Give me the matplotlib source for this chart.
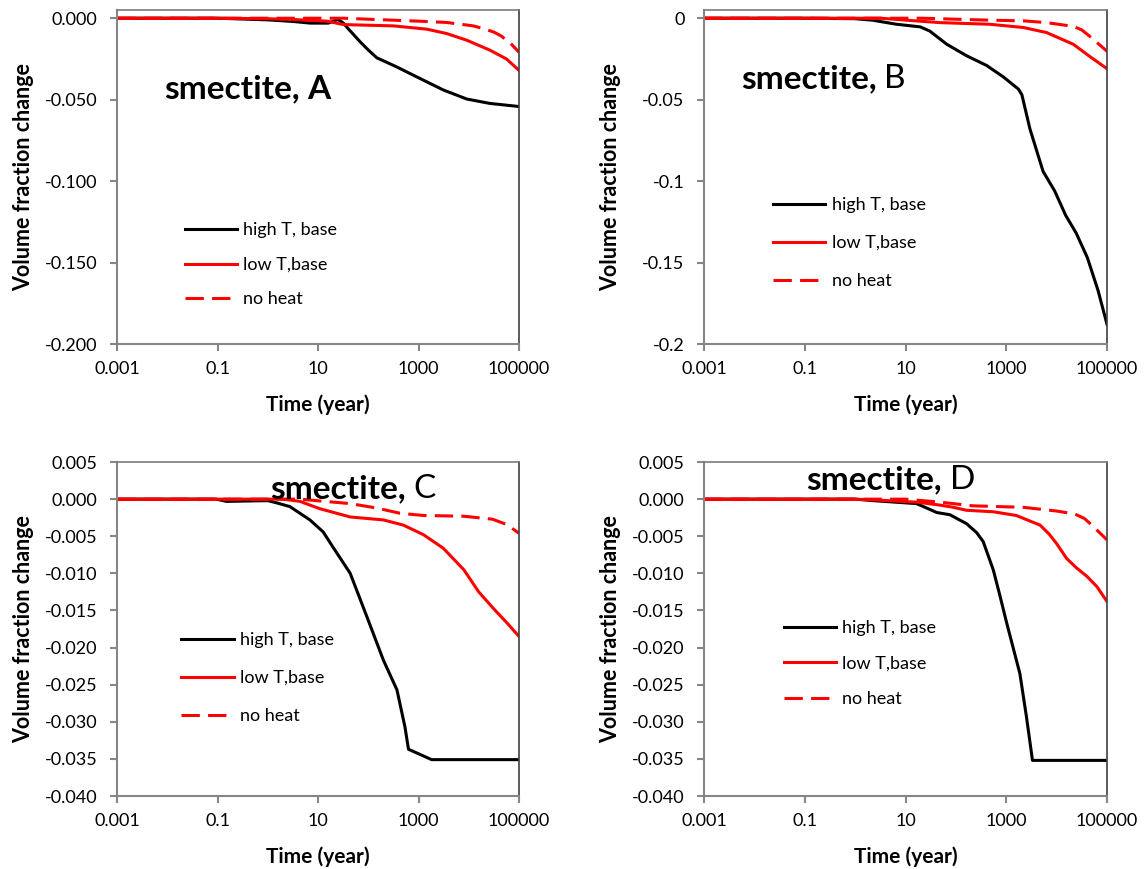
import matplotlib
matplotlib.use('Agg')
import matplotlib.pyplot as plt

plt.rcParams['font.family'] = ['Lato', 'DejaVu Sans']

# ---- data (time in years, volume fraction change) ----
labels = ['high T, base', 'low T,base', 'no heat']
xticks = [0.001, 0.1, 10, 1000, 100000]
xtick_labels = ['0.001', '0.1', '10', '1000', '100000']

# panel A
t_hA = [0.001, 0.1, 1, 3.2, 7, 16, 25, 32, 40, 69, 100, 148, 363, 1070, 3090, 9120, 26300, 100000]
v_hA = [0, 0, -0.001, -0.002, -0.003, -0.003, -0.0008, -0.003, -0.0065, -0.0145, -0.0195,
        -0.0243, -0.0298, -0.037, -0.044, -0.0496, -0.0523, -0.0542]
t_lA = [0.001, 0.1, 1, 3.2, 15, 32, 316, 1450, 3630, 9120, 26300, 56200, 100000]
v_lA = [0, 0, -0.0003, -0.0008, -0.0018, -0.0039, -0.0047, -0.0067, -0.0094, -0.0135,
        -0.0196, -0.025, -0.032]
t_nA = [0.001, 32, 316, 1000, 3630, 12300, 20000, 31600, 44700, 70800, 100000]
v_nA = [0, 0, -0.0012, -0.0018, -0.0026, -0.0047, -0.0065, -0.0085, -0.011, -0.016, -0.0209]

# panel B
t_hB = [0.001, 0.1, 1, 2.2, 6.6, 19.5, 30, 66, 162, 407, 871, 1740, 2040, 2950, 5370,
        9120, 15100, 24500, 40700, 66100, 100000]
v_hB = [0, 0, -0.0003, -0.0012, -0.0037, -0.0053, -0.0078, -0.016, -0.023, -0.029, -0.036,
        -0.0435, -0.047, -0.068, -0.094, -0.106, -0.121, -0.132, -0.147, -0.167, -0.188]
t_lB = [0.001, 3.2, 10.5, 48, 468, 2190, 6310, 21400, 47900, 100000]
v_lB = [0, 0, -0.0012, -0.0027, -0.0037, -0.0057, -0.0088, -0.016, -0.024, -0.031]
t_nB = [0.001, 22, 100, 468, 2190, 6310, 21400, 31600, 47900, 69200, 100000]
v_nB = [0, 0, -0.0006, -0.0012, -0.0016, -0.0027, -0.005, -0.0072, -0.0117, -0.016, -0.0203]

# panel C
t_hC = [0.001, 0.095, 0.15, 1, 1.5, 2.75, 6.9, 12.6, 20, 43.7, 93.3, 200, 372, 537, 631,
        1820, 100000]
v_hC = [0, 0, -0.0003, -0.0002, -0.0005, -0.001, -0.0028, -0.0044, -0.0065, -0.010, -0.0158,
        -0.0217, -0.0257, -0.0307, -0.0337, -0.0351, -0.0351]
t_lC = [0.001, 2, 4.4, 6.9, 11, 23.4, 43.7, 200, 501, 1260, 3090, 7940, 15800, 31600,
        56200, 100000]
v_lC = [0, 0, -0.0003, -0.0008, -0.0013, -0.0019, -0.0024, -0.0028, -0.0035, -0.0048,
        -0.0066, -0.0095, -0.0125, -0.0148, -0.0166, -0.0185]
t_nC = [0.001, 4.4, 9.3, 43.7, 148, 427, 1260, 7940, 29500, 56200, 100000]
v_nC = [0, 0, -0.0002, -0.0006, -0.0012, -0.0019, -0.0022, -0.0023, -0.0027, -0.0034, -0.0046]

# panel D
t_hD = [0.001, 1, 2.3, 10, 16.6, 26.3, 41.7, 75.9, 162, 257, 347, 550, 741, 1020, 1860,
        2510, 3310, 100000]
v_hD = [0, 0, -0.0002, -0.0005, -0.0006, -0.0012, -0.0018, -0.0021, -0.0033, -0.0045,
        -0.0057, -0.0095, -0.0129, -0.0167, -0.0235, -0.0293, -0.0352, -0.0352]
t_lD = [0.001, 1, 2.3, 16.6, 47.9, 89.1, 162, 550, 1580, 4680, 7080, 10000, 15800, 25100,
        39800, 63100, 100000]
v_lD = [0, 0, -0.0001, -0.0004, -0.0008, -0.0011, -0.0015, -0.0017, -0.0022, -0.0035,
        -0.0047, -0.006, -0.008, -0.0093, -0.0104, -0.0118, -0.0138]
t_nD = [0.001, 10, 47.9, 219, 2190, 10000, 22900, 35500, 47900, 70800, 100000]
v_nD = [0, 0, -0.0004, -0.0009, -0.0011, -0.0016, -0.002, -0.0026, -0.0034, -0.0045, -0.0055]

yticks_AB = [-0.2, -0.15, -0.1, -0.05, 0]
ylab_A = ['-0.200', '-0.150', '-0.100', '-0.050', '0.000']
ylab_B = ['-0.2', '-0.15', '-0.1', '-0.05', '0']
yticks_CD = [-0.04, -0.035, -0.03, -0.025, -0.02, -0.015, -0.01, -0.005, 0, 0.005]
ylab_CD = ['-0.040', '-0.035', '-0.030', '-0.025', '-0.020', '-0.015', '-0.010',
           '-0.005', '0.000', '0.005']

fig = plt.figure(figsize=(11.44, 8.69), dpi=100)

grey = '#868686'


def panel(rect, series, ylim, yt, ytl, letter, letter_bold, title_xy, leg_xy, leg_space):
    ax = fig.add_axes(rect)
    styles = [dict(color='black', ls='-'), dict(color='#ff0000', ls='-'),
              dict(color='#ff0000', ls=(0, (6, 2.7)))]
    for (t, v), st, lab in zip(series, styles, labels):
        ax.plot(t, v, lw=2.2, label=lab, solid_joinstyle='round', **st)
    ax.set_xscale('log')
    ax.set_xlim(0.001, 100000)
    ax.set_ylim(*ylim)
    ax.set_xticks(xticks, xtick_labels)
    ax.minorticks_off()
    ax.set_yticks(yt, ytl)
    ax.tick_params(axis='both', direction='out', length=5, width=1.5, color=grey,
                   labelsize=13, labelcolor='black')
    ax.tick_params(axis='x', pad=7)
    ax.tick_params(axis='y', pad=9)
    for s in ['left', 'bottom']:
        ax.spines[s].set_color(grey)
        ax.spines[s].set_linewidth(1.5)
    ax.spines['top'].set_color('#7a7a7a')
    ax.spines['top'].set_linewidth(1.2)
    ax.spines['right'].set_color('#404040')
    ax.spines['right'].set_linewidth(1.2)
    ax.set_xlabel('Time (year)', fontsize=15, fontweight='bold')
    ax.xaxis.set_label_coords(0.5, -0.15)
    ax.set_ylabel('Volume fraction change', fontsize=15.5, fontweight='bold')
    ax.yaxis.set_label_coords(-0.205, 0.5)

    txt = ax.text(title_xy[0], title_xy[1], 'smectite,', transform=ax.transAxes,
                  fontsize=24, fontweight='bold', va='bottom', ha='left')
    ax.annotate(letter, xy=(1, 0), xycoords=txt, xytext=(5.5, 0), textcoords='offset points',
                fontsize=24, fontweight='bold' if letter_bold else 'normal',
                va='bottom', ha='left')

    ax.legend(loc='center left', bbox_to_anchor=leg_xy, frameon=False, fontsize=13,
              handlelength=2.9, handletextpad=0.35, labelspacing=leg_space,
              borderpad=0, borderaxespad=0)
    return ax


panel([0.1023, 0.6041, 0.3514, 0.3843],
      [(t_hA, v_hA), (t_lA, v_lA), (t_nA, v_nA)],
      (-0.2, 0.005), yticks_AB, ylab_A, 'A', True, (0.116, 0.72), (0.168, 0.237), 1.02)
panel([0.6154, 0.6041, 0.3523, 0.3843],
      [(t_hB, v_hB), (t_lB, v_lB), (t_nB, v_nB)],
      (-0.2, 0.005), yticks_AB, ylab_B, 'B', False, (0.091, 0.75), (0.171, 0.303), 1.22)
panel([0.1023, 0.0840, 0.3514, 0.3843],
      [(t_hC, v_hC), (t_lC, v_lC), (t_nC, v_nC)],
      (-0.04, 0.005), yticks_CD, ylab_CD, 'C', False, (0.38, 0.875), (0.160, 0.353), 1.22)
panel([0.6154, 0.0840, 0.3523, 0.3843],
      [(t_hD, v_hD), (t_lD, v_lD), (t_nD, v_nD)],
      (-0.04, 0.005), yticks_CD, ylab_CD, 'D', False, (0.254, 0.902), (0.198, 0.397), 1.08)

fig.savefig('out.png', dpi=100)
